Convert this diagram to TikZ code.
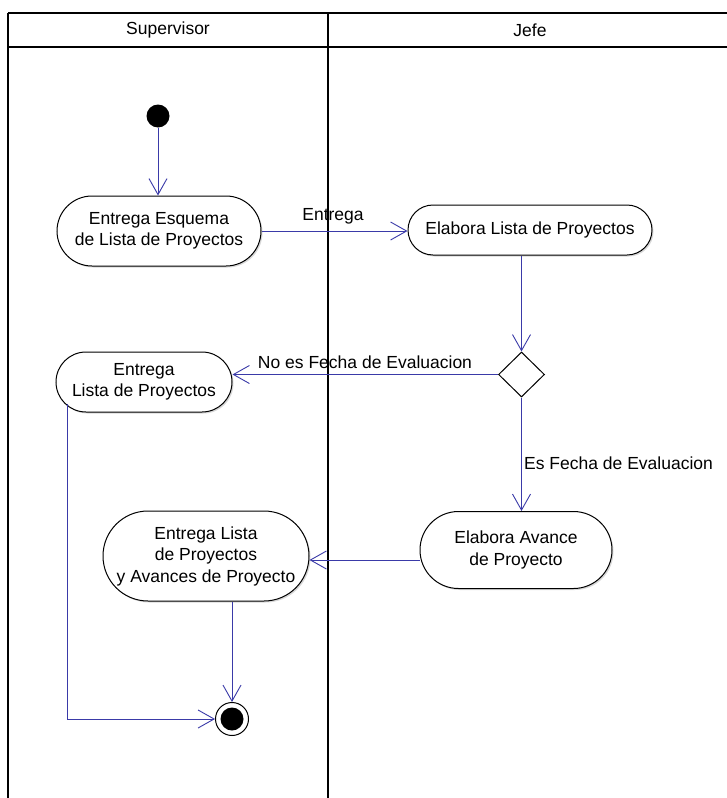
\documentclass[tikz,border=0pt]{standalone}
\usepackage{fontspec}
\setmainfont{Liberation Sans}
\usetikzlibrary{shapes.misc,shapes.geometric,arrows.meta,shadows}
\definecolor{conn}{RGB}{58,58,168}
\begin{document}
\begin{tikzpicture}[x=1pt,y=-1pt,
  lane/.style={draw=black,line width=1.3pt},
  act/.style={rounded rectangle,draw=black,line width=1pt,fill=white,align=center,
    font=\fontsize{17.5}{21.5}\selectfont,inner sep=0pt,
    drop shadow={shadow xshift=1.5pt,shadow yshift=-1.5pt,fill=black!30}},
  flow/.style={draw=conn,line width=0.9pt,-{Straight Barb[length=16pt,width=18pt,line width=0.9pt]}},
  lbl/.style={font=\fontsize{17.5}{20}\selectfont,inner sep=1pt},
  hdr/.style={font=\fontsize{17.5}{20}\selectfont,inner sep=0pt}]
\useasboundingbox[fill=white] (0,0) rectangle (727,798);
% swimlanes
\draw[lane] (8,13) -- (727,13);
\draw[lane] (8,47) -- (727,47);
\draw[lane] (8,13) -- (8,798);
\draw[lane] (328,13) -- (328,798);
\node[hdr] (hS) at (168,30) {Supervisor};
\node[hdr] (hJ) at (530,30) {Jefe};
% nodes
\node[circle,fill=black,minimum size=23pt,inner sep=0pt] (I) at (158,116) {};
\node[act,minimum width=204pt,minimum height=70pt] (A1) at (159,231) {Entrega Esquema\\de Lista de Proyectos};
\node[act,minimum width=244pt,minimum height=50pt] (A2) at (530,230) {Elabora Lista de Proyectos};
\node[diamond,draw,line width=1pt,fill=white,minimum width=46pt,minimum height=45pt,inner sep=0pt] (D) at (521.5,374.5) {};
\node[act,minimum width=176pt,minimum height=60pt] (A3) at (144,382) {Entrega\\Lista de Proyectos};
\node[act,minimum width=192pt,minimum height=77pt] (A4) at (516,550) {Elabora Avance\\de Proyecto};
\node[act,minimum width=206pt,minimum height=90pt] (A5) at (206,556) {Entrega Lista\\de Proyectos\\y Avances de Proyecto};
\node[circle,draw=black,line width=1pt,fill=white,minimum size=33pt,inner sep=0pt] (F) at (232,719) {};
\node[circle,fill=black,minimum size=23pt,inner sep=0pt] (Fi) at (F) {};
\coordinate (a3out) at (67,404);
% connectors
\draw[flow] (I) -- (I |- A1.north);
\draw[flow] (A1.east) -- (A1.east -| A2.west);
\draw[flow] (D.north |- A2.south) -- (D.north);
\draw[flow] (D.west) -- (D.west -| A3.east);
\draw[flow] (D.south) -- (D.south |- A4.north);
\draw[flow] ([yshift=-10pt]A4.west) -- ([yshift=-10pt]A4.west -| A5.east);
\draw[flow] (F.north |- A5.south) -- (F.north);
\draw[flow] (a3out) |- (F.west);
% labels
\node[lbl] (lE) at (333,216) {Entrega};
\node[lbl] (lN) at (365,362) {No es Fecha de Evaluacion};
\node[lbl,anchor=west] (lS) at (523,463) {Es Fecha de Evaluacion};
\end{tikzpicture}
\end{document}
